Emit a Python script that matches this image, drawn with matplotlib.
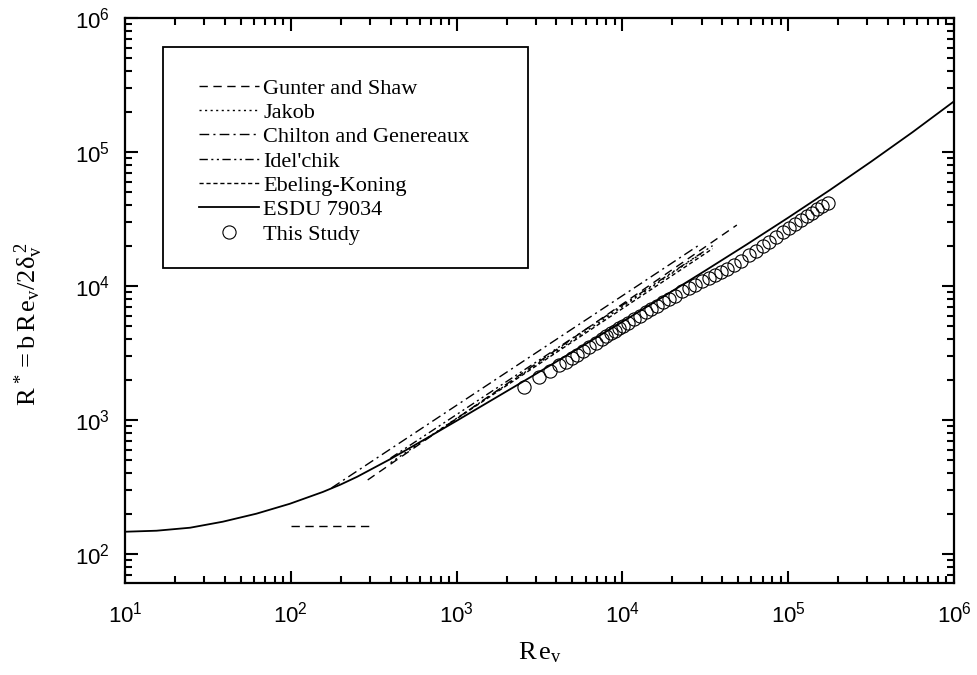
import numpy as np
import matplotlib
matplotlib.use("Agg")
import matplotlib.pyplot as plt
from matplotlib.patches import Rectangle
from matplotlib.ticker import LogLocator, FuncFormatter, NullFormatter

plt.rcParams['mathtext.fontset'] = 'custom'
plt.rcParams['mathtext.rm'] = 'Liberation Serif'
plt.rcParams['mathtext.it'] = 'Liberation Serif:italic'
plt.rcParams['mathtext.sf'] = 'Liberation Sans'

# ESDU 79034 curve
esdu_re = [10, 15.5, 24.7, 38.9, 62.1, 98.6, 156, 199.5, 251, 398, 631, 1000, 2512, 5012,
           1.0e4, 1.778e4, 3.162e4, 5.623e4, 1.0e5, 1.778e5, 3.162e5, 5.623e5, 1.0e6]
esdu_r = [146.6, 149.2, 157.1, 174.2, 200, 237, 290.4, 329.6, 376.7, 510.5, 707.9, 986,
          1932, 3221, 5408, 8375, 1.303e4, 2.042e4, 3.236e4, 5.188e4, 8.472e4, 1.406e5, 2.388e5]

# Gunter and Shaw (two parts)
gs_low_re = [100, 300]
gs_low_r = [163, 163]
gs_re = [291, 4.9e4]
gs_r = [357, 2.85e4]

# Jakob
jakob_re = [400, 3.0e4]
jakob_r = [480, 1.75e4]

# Chilton and Genereaux
cg_re = [176, 2.9e4]
cg_r = [311, 2.02e4]

# Idel'chik
idel_re = [400, 3.5e4]
idel_r = [520, 2.0e4]

# Ebeling-Koning
ek_re = [800, 3.5e4]
ek_r = [850, 1.9e4]

# This Study
study_re = [2535, 3162, 3681, 4169, 4539, 4932, 5358, 5821, 6324, 6969, 7580, 8012,
            8590, 9082, 9597, 1.014e4, 1.087e4, 1.181e4, 1.283e4, 1.395e4, 1.496e4,
            1.626e4, 1.766e4, 1.919e4, 2.085e4, 2.297e4, 2.535e4, 2.754e4, 3.034e4,
            3.343e4, 3.631e4, 3.945e4, 4.292e4, 4.729e4, 5.21e4, 5.82e4, 6.41e4,
            7.06e4, 7.69e4, 8.47e4, 9.33e4, 1.014e5, 1.102e5, 1.197e5, 1.301e5,
            1.396e5, 1.496e5, 1.604e5, 1.742e5]
study_r = [1762, 2094, 2323, 2570, 2710, 2904, 3055, 3273, 3507, 3758, 4018, 4236,
           4460, 4617, 4864, 5027, 5296, 5675, 5974, 6397, 6734, 7096, 7603, 8003,
           8420, 9180, 9660, 1.017e4, 1.090e4, 1.147e4, 1.208e4, 1.271e4, 1.339e4,
           1.435e4, 1.538e4, 1.703e4, 1.825e4, 1.990e4, 2.130e4, 2.323e4, 2.531e4,
           2.711e4, 2.904e4, 3.112e4, 3.327e4, 3.507e4, 3.758e4, 3.954e4, 4.16e4]

fig = plt.figure(figsize=(9.78, 6.75), dpi=100)
ax = fig.add_axes([125/978, 1-583/675, 829/978, 565/675])

lw = 1.0
ax.plot(gs_re, gs_r, color='black', lw=lw, ls=(0, (6, 4)), label='Gunter and Shaw')
ax.plot(gs_low_re, gs_low_r, color='black', lw=lw, ls=(0, (6, 4)))
ax.plot(jakob_re, jakob_r, color='black', lw=lw, ls=(0, (1.5, 2.5)), label='Jakob')
ax.plot(cg_re, cg_r, color='black', lw=lw, ls=(0, (7, 3, 1.5, 3)), label='Chilton and Genereaux')
ax.plot(idel_re, idel_r, color='black', lw=lw, ls=(0, (6, 2.5, 1.5, 2.5, 1.5, 2.5)), label="Idel'chik")
ax.plot(ek_re, ek_r, color='black', lw=lw, ls=(0, (3, 2)), label='Ebeling-Koning')
ax.plot(esdu_re, esdu_r, color='black', lw=1.3, ls='-', label='ESDU 79034')
ax.plot(study_re, study_r, ls='none', marker='o', ms=9.5, mfc='none', mec='black', mew=0.8,
        label='This Study')

ax.set_xscale('log')
ax.set_yscale('log')
ax.set_xlim(10, 1e6)
ax.set_ylim(10**(2 - 29/134), 1e6)

def fmt(v, pos):
    n = int(round(np.log10(v)))
    return r'$\mathsf{10^{%d}}$' % n

ax.xaxis.set_major_locator(LogLocator(base=10, numticks=20))
ax.yaxis.set_major_locator(LogLocator(base=10, numticks=20))
ax.xaxis.set_minor_locator(LogLocator(base=10, subs=np.arange(2, 10), numticks=20))
ax.yaxis.set_minor_locator(LogLocator(base=10, subs=np.arange(2, 10), numticks=20))
ax.xaxis.set_major_formatter(FuncFormatter(fmt))
ax.yaxis.set_major_formatter(FuncFormatter(fmt))
ax.xaxis.set_minor_formatter(NullFormatter())
ax.yaxis.set_minor_formatter(NullFormatter())

ax.tick_params(which='both', direction='in', top=True, right=True, width=1.5, labelsize=16)
ax.tick_params(which='major', length=9)
ax.tick_params(which='minor', length=5)
ax.tick_params(axis='x', which='major', pad=13)
ax.tick_params(axis='y', which='major', pad=11)
for s in ax.spines.values():
    s.set_linewidth(1.6)

ax.set_xlabel(r'$\mathrm{R\,e_{v}}$', fontsize=19, labelpad=9)
ax.set_ylabel(r'$\mathrm{R^{\,*}=b\,R\,e_{v}/2\delta_{v}^{\;2}}$', fontsize=19)
ax.yaxis.set_label_coords(-0.097, 0.458)

rect = Rectangle((38/829, (583-268)/565), (528-163)/829, (268-47)/565,
                 transform=ax.transAxes, fill=False, edgecolor='black', lw=1.3, zorder=5)
ax.add_patch(rect)
leg = ax.legend(loc='upper left', bbox_to_anchor=(74/829, 1-(78-18)/565), frameon=False,
                prop={'family': 'Liberation Serif', 'size': 16}, handlelength=2.7,
                handletextpad=0.2, labelspacing=0.17, borderpad=0, borderaxespad=0)

fig.savefig('out.png', dpi=100)
